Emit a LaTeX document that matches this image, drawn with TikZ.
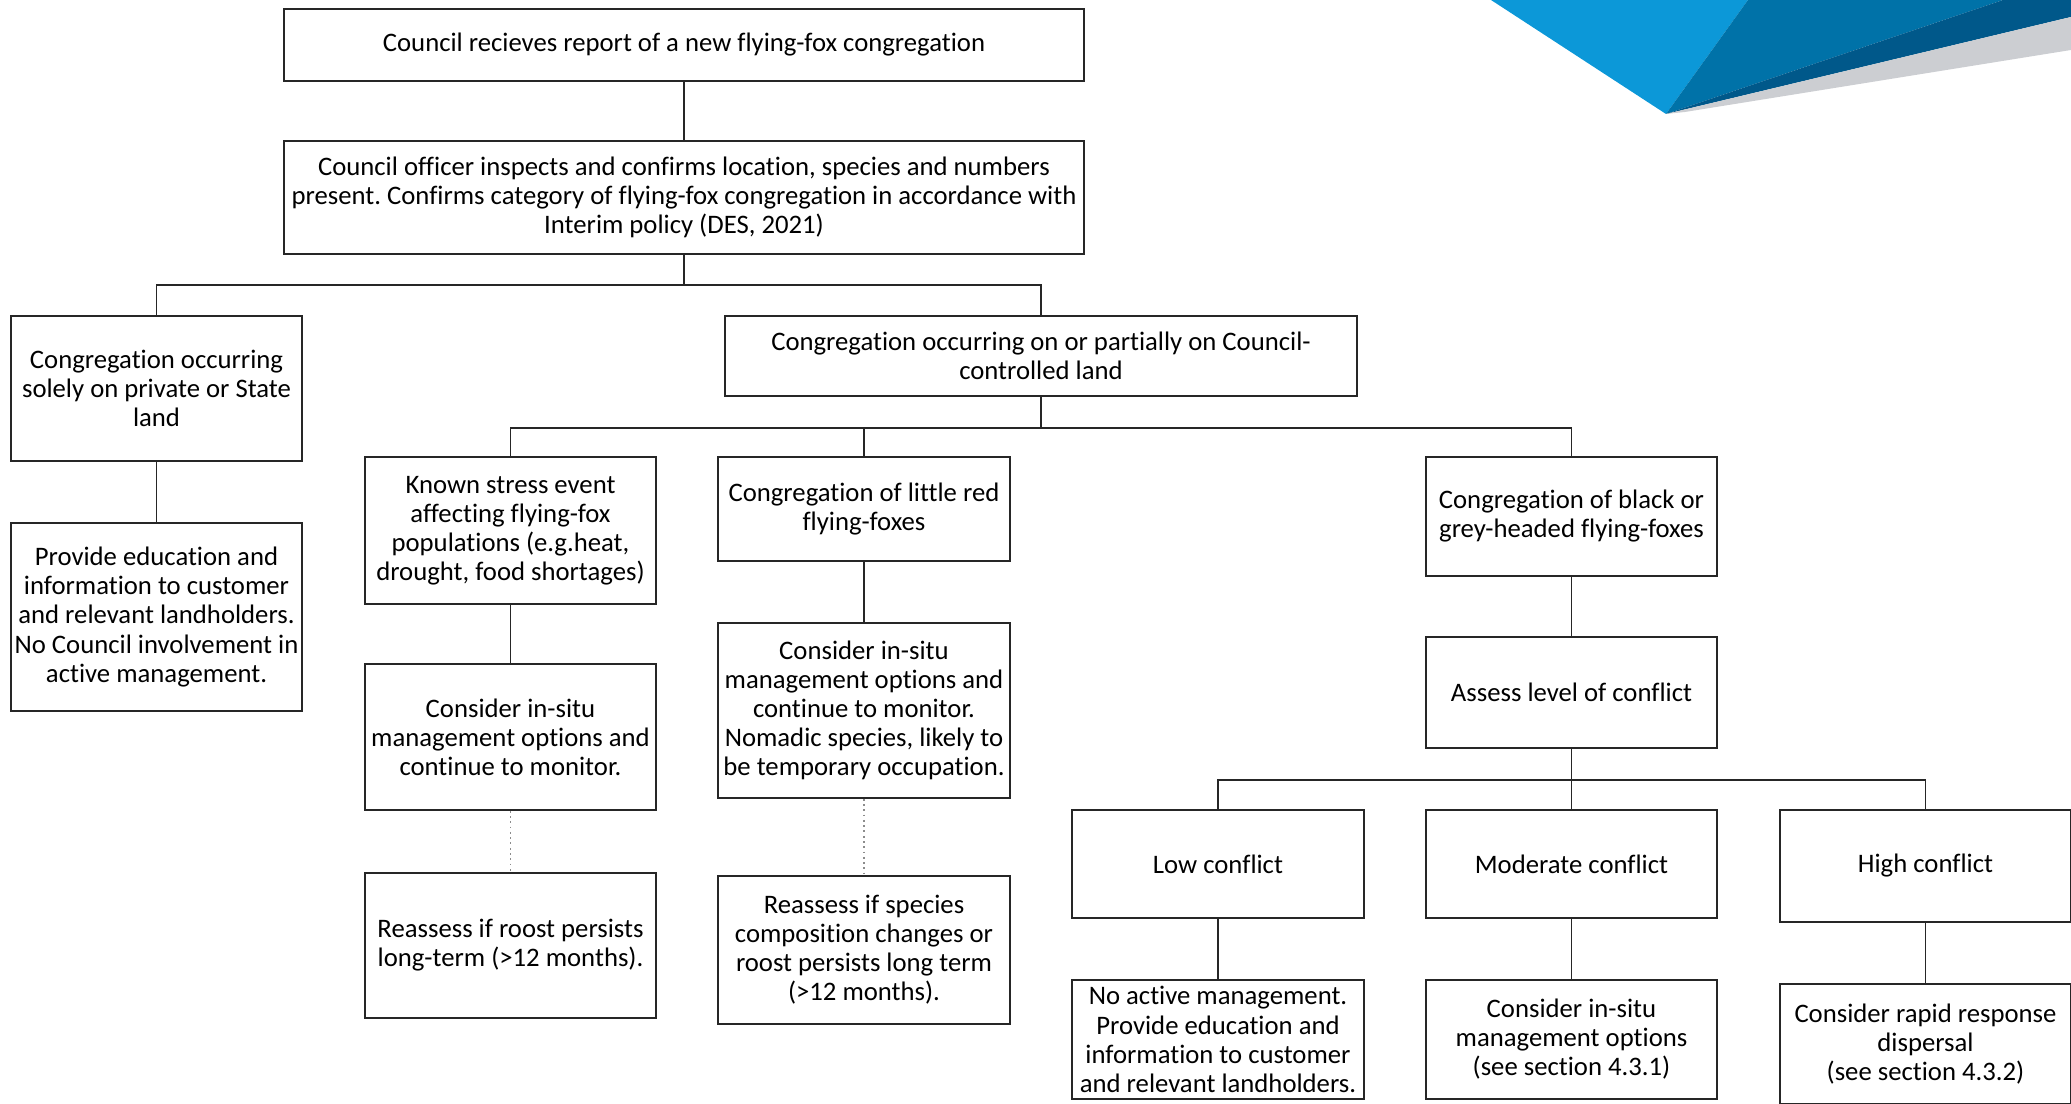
\documentclass[tikz,border=0pt]{standalone}
\usepackage{fontspec}
\setmainfont[Ligatures=NoCommon]{Carlito}
\frenchspacing
\definecolor{logolight}{RGB}{12,152,216}
\definecolor{logomid}{RGB}{0,114,168}
\definecolor{logodark}{RGB}{0,88,138}
\definecolor{logogray}{RGB}{204,206,210}

\begin{document}
\begin{tikzpicture}[line width=0.5pt,
    box/.style={shape=rectangle, draw=black!85, align=center, inner sep=0pt,
        font=\fontsize{7.6}{8.27}\selectfont},
    link/.style={draw=black!85},
    recheck/.style={draw=black!45, densely dotted}]
    \useasboundingbox (0, 0) rectangle (20.71, -11.04);
    % logo corner
    \fill[logolight] (14.91, 0) -- (17.48, 0) -- (16.66, -1.14) -- cycle;
    \fill[logomid] (17.48, 0) -- (20.03, 0) -- (16.66, -1.14) -- cycle;
    \fill[logodark] (20.03, 0) -- (20.71, 0) -- (20.71, -0.17) -- (16.66, -1.14) -- cycle;
    \fill[logogray] (16.66, -1.14) -- (20.71, -0.17) -- (20.71, -0.50) -- (16.85, -1.12) -- cycle;

    \node[box, minimum width=8cm, minimum height=7.2mm] at (6.84, -0.45) (report)
        {Council recieves report of a new flying-fox congregation};
    \node[box, minimum width=8cm, minimum height=11.3mm] at (6.84, -1.975) (inspect)
        {Council officer inspects and confirms location, species and numbers\\
         present. Confirms category of flying-fox congregation in accordance with\\
         Interim policy (DES, 2021)};
    \node[box, minimum width=2.91cm, minimum height=14.5mm] at (1.565, -3.885) (private)
        {Congregation occurring\\ solely on private or State\\ land};
    \node[box, minimum width=6.32cm, minimum height=8mm] at (10.41, -3.56) (council)
        {Congregation occurring on or partially on Council-\\controlled land};
    \node[box, minimum width=2.91cm, minimum height=18.8mm] at (1.565, -6.17) (education)
        {Provide education and\\ information to customer\\ and relevant landholders.\\
         No Council involvement in\\ active management.};

    \node[box, minimum width=2.91cm, minimum height=14.7mm] at (5.105, -5.305) (stress)
        {Known stress event\\ affecting flying-fox\\ populations (e.g.heat,\\ drought, food shortages)};
    \node[box, minimum width=2.92cm, minimum height=10.4mm] at (8.64, -5.09) (littlered)
        {Congregation of little red\\ flying-foxes};
    \node[box, minimum width=2.91cm, minimum height=11.9mm] at (15.715, -5.165) (blackgrey)
        {Congregation of black or\\ grey-headed flying-foxes};
    \node[box, minimum width=2.91cm, minimum height=14.6mm] at (5.105, -7.37) (insitu1)
        {Consider in-situ\\ management options and\\ continue to monitor.};
    \node[box, minimum width=2.92cm, minimum height=17.5mm] at (8.64, -7.105) (insitu2)
        {Consider in-situ\\ management options and\\ continue to monitor.\\
         Nomadic species, likely to\\ be temporary occupation.};
    \node[box, minimum width=2.91cm, minimum height=11.1mm] at (15.715, -6.925) (assess)
        {Assess level of conflict};
    \node[box, minimum width=2.91cm, minimum height=14.5mm] at (5.105, -9.455) (reassess1)
        {Reassess if roost persists\\ long-term (>12 months).};
    \node[box, minimum width=2.92cm, minimum height=14.8mm] at (8.64, -9.50) (reassess2)
        {Reassess if species\\ composition changes or\\ roost persists long term\\ (>12 months).};

    \node[box, minimum width=2.92cm, minimum height=10.8mm] at (12.18, -8.64) (low) {Low conflict};
    \node[box, minimum width=2.91cm, minimum height=10.8mm] at (15.715, -8.64) (moderate) {Moderate conflict};
    \node[box, minimum width=2.91cm, minimum height=11.2mm] at (19.255, -8.66) (high) {High conflict};
    \node[box, minimum width=2.92cm, minimum height=11.9mm] at (12.18, -10.395) (lowaction)
        {No active management.\\ Provide education and\\ information to customer\\ and relevant landholders.};
    \node[box, minimum width=2.91cm, minimum height=11.9mm] at (15.715, -10.395) (modaction)
        {Consider in-situ\\ management options\\ (see section 4.3.1)};
    \node[box, minimum width=2.91cm, minimum height=12mm] at (19.255, -10.44) (highaction)
        {Consider rapid response\\ dispersal\\ (see section 4.3.2)};

    \draw[link] (report) -- (inspect);
    \draw[link] (inspect.south) -- ++(0, -0.3) -| (private.north);
    \draw[link] (inspect.south) -- ++(0, -0.3) -| (council.north);
    \draw[link] (private) -- (education);
    \foreach \n in {stress, littlered, blackgrey}
        \draw[link] (council.south) -- ++(0, -0.31) -| (\n.north);
    \draw[link] (stress) -- (insitu1);
    \draw[link] (littlered) -- (insitu2);
    \draw[link] (blackgrey) -- (assess);
    \draw[recheck] (insitu1) -- (reassess1);
    \draw[recheck] (insitu2) -- (reassess2);
    \foreach \n in {low, moderate, high}
        \draw[link] (assess.south) -- ++(0, -0.31) -| (\n.north);
    \draw[link] (low) -- (lowaction);
    \draw[link] (moderate) -- (modaction);
    \draw[link] (high) -- (highaction);
\end{tikzpicture}
\end{document}
